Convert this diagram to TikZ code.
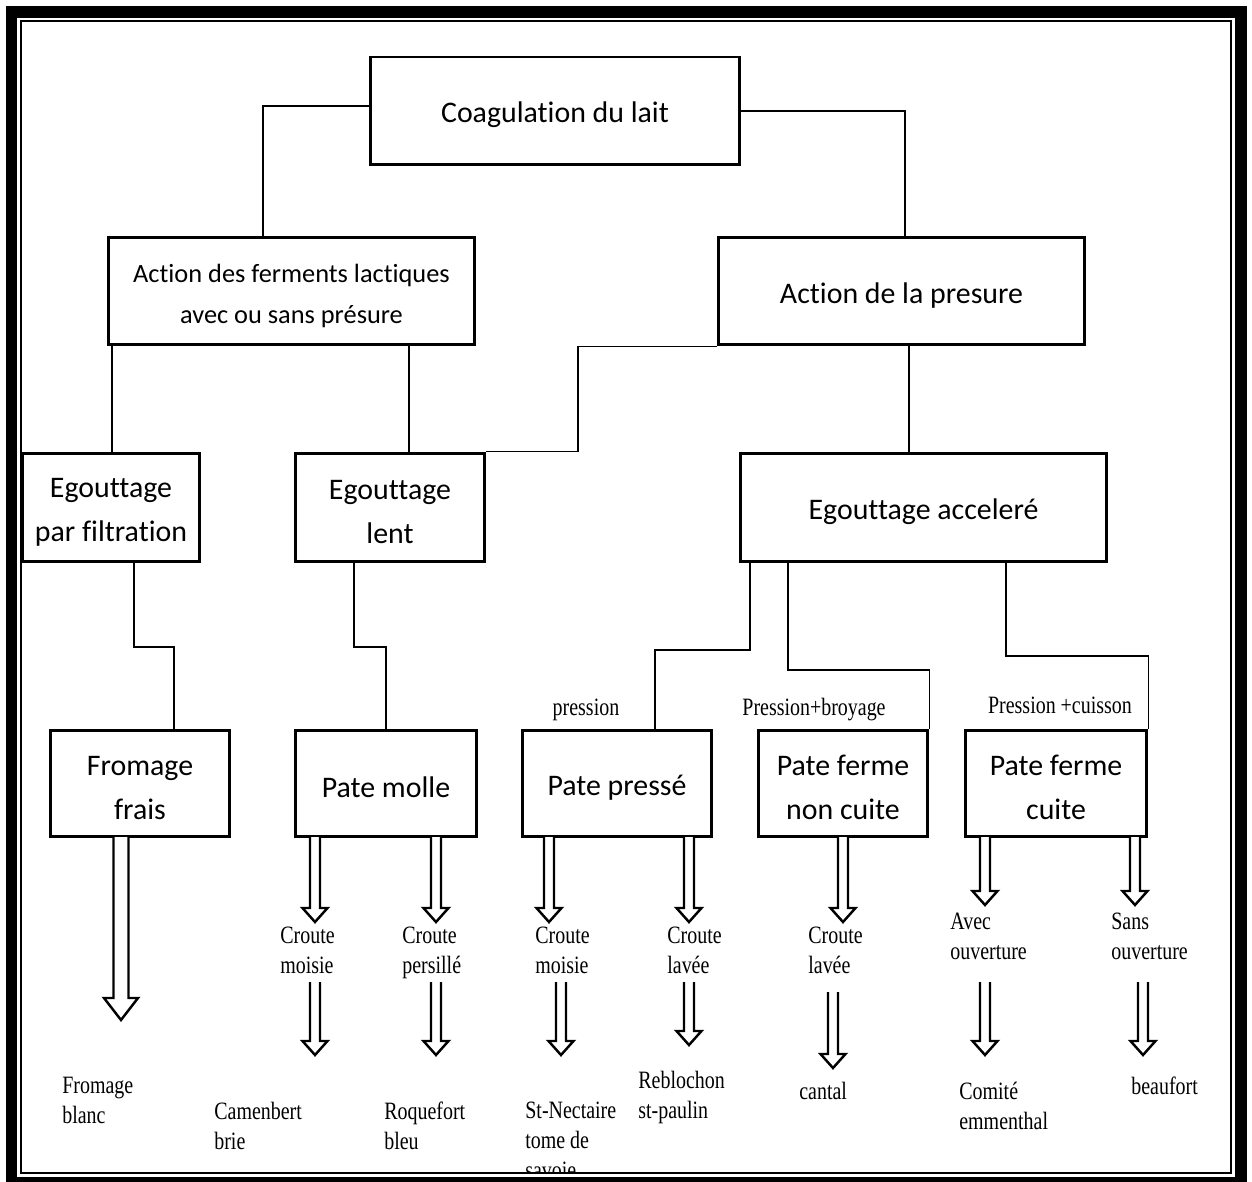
\documentclass[tikz,border=0pt]{standalone}
\usepackage{fontspec}
\setmainfont{Carlito}
\newfontfamily\tnr[FakeStretch=0.8]{Liberation Serif}
\newfontfamily\calib[Ligatures=NoCommon]{Carlito}
\newcommand\tp{\rule{0pt}{16.5pt}}
\newcommand\harr[6]{\draw[harrow] ({#1-#4},#2) -- ({#1-#4},{#3-#6}) -- ({#1-#5},{#3-#6}) -- (#1,#3) -- ({#1+#5},{#3-#6}) -- ({#1+#4},{#3-#6}) -- ({#1+#4},#2);}
\newcommand\sarr[3]{\harr{#1}{#2}{#3}{5}{12.5}{14}}
\tikzset{
 box/.style={draw, line width=1.7pt, inner sep=0pt, align=center, font=\calib\fontsize{17}{25}\selectfont},
 conn/.style={line width=0.85pt},
 harrow/.style={line width=1.4pt, line join=miter, fill=white},
 lbl/.style={inner sep=0pt, anchor=north west, align=left, font=\tnr\fontsize{14.2}{17}\selectfont},
 plbl/.style={inner sep=0pt, anchor=base, font=\tnr\fontsize{14.2}{17}\selectfont},
}
\begin{document}
\begin{tikzpicture}[x=0.02cm,y=-0.02cm]
\useasboundingbox (0,0) rectangle (1252,1182);
\fill[white] (0,0) rectangle (1252,1182);
\begin{scope}
\clip (0,0) rectangle (1252,1172);
% boxes
\node[box, minimum width=7.4cm, minimum height=2.16cm] (coag) at (555,111) {\tp Coagulation du lait};
\node[box, minimum width=7.34cm, minimum height=2.16cm, font=\calib\fontsize{15}{23.3}\selectfont] (ferm) at (291.5,291) {\tp Action des ferments lactiques\\avec ou sans présure};
\node[box, minimum width=7.34cm, minimum height=2.16cm] (pres) at (901.5,291) {\tp Action de la presure};
\node[box, minimum width=3.56cm, minimum height=2.18cm] (egf) at (111,507.5) {\tp Egouttage\\par filtration};
\node[box, minimum width=3.8cm, minimum height=2.18cm] (egl) at (390,507.5) {\tp Egouttage\\lent};
\node[box, minimum width=7.34cm, minimum height=2.18cm] (ega) at (923.5,507.5) {\tp Egouttage acceleré};
\node[box, minimum width=3.6cm, minimum height=2.14cm] (ff) at (140,783.5) {\tp Fromage\\frais};
\node[box, minimum width=3.64cm, minimum height=2.14cm] (pm) at (386,783.5) {\tp Pate molle};
\node[box, minimum width=3.8cm, minimum height=2.14cm] (pp) at (617,783.5) {\tp Pate pressé};
\node[box, minimum width=3.4cm, minimum height=2.14cm] (pfnc) at (843,783.5) {\tp Pate ferme\\non cuite};
\node[box, minimum width=3.64cm, minimum height=2.14cm] (pfc) at (1056,783.5) {\tp Pate ferme\\cuite};
% connectors
\draw[conn] ([yshift=0.1cm]coag.west) -| (ferm.north -| 263,0);
\draw[conn] (coag.east) -| (pres.north -| 905,0);
\draw[conn] (ferm.south -| 112,0) -- (egf.north -| 112,0);
\draw[conn] (ferm.south -| 409,0) -- (egl.north -| 409,0);
\draw[conn] (pres.south west) -| (578,400) |- (egl.north east);
\draw[conn] (pres.south -| 909,0) -- (ega.north -| 909,0);
\draw[conn] (egf.south -| 134,0) |- (174,647) -- (ff.north -| 174,0);
\draw[conn] (egl.south -| 354,0) |- (386,647) -- (pm.north);
\draw[conn] (ega.south -| 750,0) |- (655,650) -- (pp.north -| 655,0);
\draw[conn] (ega.south -| 788,0) -- (788,670) -| (pfnc.north east);
\draw[conn] (ega.south -| 1006,0) -- (1006,656) -| (pfc.north east);
% edge labels
\node[plbl] (lp) at (586,715) {pression};
\node[plbl] (lpb) at (814,715) {Pression+broyage};
\node[plbl] (lpc) at (1060,713) {Pression +cuisson};
% hollow arrows
\harr{121}{837}{1020}{7.5}{17}{22}
\sarr{315}{837}{922}
\sarr{436}{837}{922}
\sarr{549}{837}{922}
\sarr{689}{837}{922}
\sarr{843}{837}{922}
\sarr{985}{837}{905}
\sarr{1135}{837}{905}
\sarr{315}{982}{1055}
\sarr{436}{982}{1055}
\sarr{561}{982}{1055}
\sarr{689}{982}{1045}
\sarr{833}{992}{1068}
\sarr{985}{982}{1055}
\sarr{1143}{982}{1055}
% labels
\node[lbl] (t1) at (280,927) {Croute\\moisie};
\node[lbl] (t2) at (402,927) {Croute\\persillé};
\node[lbl] (t3) at (535,927) {Croute\\moisie};
\node[lbl] (t4) at (667,927) {Croute\\lavée};
\node[lbl] (t5) at (808,927) {Croute\\lavée};
\node[lbl] (t6) at (950,913) {Avec\\ouverture};
\node[lbl] (t7) at (1111,913) {Sans\\ouverture};
\node[lbl] (r1) at (62,1077) {Fromage\\blanc};
\node[lbl] (r2) at (214,1102) {Camenbert\\brie};
\node[lbl] (r3) at (384,1102) {Roquefort\\bleu};
\node[lbl] (r4) at (525,1102) {St-Nectaire\\tome de\\savoie};
\node[lbl] (r5) at (638,1071) {Reblochon\\st-paulin};
\node[lbl] (r6) at (799,1082) {cantal};
\node[lbl] (r7) at (959,1082) {Comité\\emmenthal};
\node[lbl] (r8) at (1131,1077) {beaufort};
\end{scope}
% page border
\draw[line width=6.3pt] (11.5,12) rectangle (1241,1183);
\draw[line width=1.1pt] (21,21) rectangle (1231,1173);
\end{tikzpicture}
\end{document}
